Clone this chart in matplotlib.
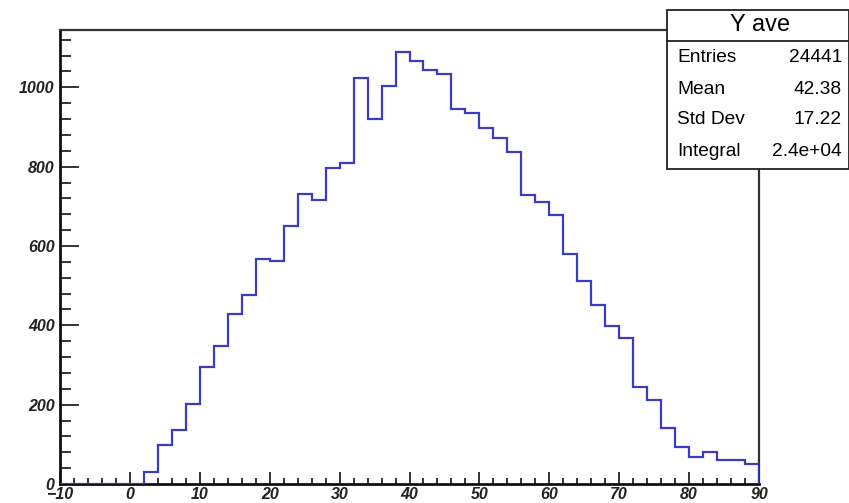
import numpy as np
import matplotlib
matplotlib.use("Agg")
import matplotlib.pyplot as plt
from matplotlib.patches import Rectangle
from matplotlib.lines import Line2D
from matplotlib.ticker import MultipleLocator

# histogram "Y ave": 50 bins of width 2 from -10 to 90
bin_edges = np.arange(-10, 92, 2)
counts = [0, 0, 0, 0, 0, 0,
          31, 99, 135, 201, 295, 348, 429, 476, 567, 561,
          650, 730, 717, 797, 808, 1023, 921, 1004, 1090, 1067,
          1043, 1034, 945, 935, 897, 873, 836, 728, 712, 679,
          580, 513, 451, 399, 367, 245, 211, 141, 93, 69,
          80, 61, 61, 51]

stat_title = "Y ave"
stat_names = ["Entries", "Mean", "Std Dev", "Integral"]
stat_values = ["24441", "42.38", "17.22", "2.4e+04"]

W, H = 849, 503
fig = plt.figure(figsize=(W / 100, H / 100), dpi=100)

def fx(px):
    return px / W

def fy(py):
    return 1 - py / H

# axes frame in pixel coords: x 60..759, y 30..484
ax = fig.add_axes([fx(60), fy(484), fx(759) - fx(60), fy(30) - fy(484)])
ax.stairs(counts, bin_edges, color="#3b3bc4", lw=1.6, zorder=3)

ax.set_xlim(-10, 90)
ax.set_ylim(0, 1.05 * max(counts))

ax.xaxis.set_major_locator(MultipleLocator(10))
ax.xaxis.set_minor_locator(MultipleLocator(2))
ax.yaxis.set_major_locator(MultipleLocator(200))
ax.yaxis.set_minor_locator(MultipleLocator(40))

ax.tick_params(axis="both", which="both", direction="in", top=False, right=False,
               color="#333333", width=1.4)
ax.tick_params(axis="y", which="major", length=14, pad=4)
ax.tick_params(axis="y", which="minor", length=8)
ax.tick_params(axis="x", which="major", length=8.5, pad=2.5)
ax.tick_params(axis="x", which="minor", length=4.3)

for lab in ax.get_xticklabels() + ax.get_yticklabels():
    lab.set_family("Liberation Sans")
    lab.set_fontweight("bold")
    lab.set_style("italic")
    lab.set_fontsize(11.5)
    lab.set_color("#222222")

for side in ["left", "bottom"]:
    ax.spines[side].set_linewidth(2.0)
    ax.spines[side].set_color("#111111")
for side in ["top", "right"]:
    ax.spines[side].set_linewidth(1.6)
    ax.spines[side].set_color("#333333")

# stats box
bx0, bx1, by0, by1, bdiv = 667, 849, 10, 169, 41
fig.patches.append(Rectangle((fx(bx0), fy(by1)), fx(bx1) - fx(bx0), fy(by0) - fy(by1),
                             transform=fig.transFigure, facecolor="white",
                             edgecolor="#222222", lw=1.3, zorder=5))
fig.lines.append(Line2D([fx(bx0), fx(bx1)], [fy(bdiv), fy(bdiv)],
                        transform=fig.transFigure, color="#222222", lw=1.3, zorder=6))

fig.text(fx(760), fy(25), stat_title, ha="center", va="center", fontsize=17,
         family="Liberation Sans", zorder=7)
row_y = [57, 89, 120, 151]
for name, val, yy in zip(stat_names, stat_values, row_y):
    fig.text(fx(677), fy(yy), name, ha="left", va="center", fontsize=13.8,
             family="Liberation Sans", zorder=7)
    fig.text(fx(842), fy(yy), val, ha="right", va="center", fontsize=13.8,
             family="Liberation Sans", zorder=7)

fig.savefig("out.png", dpi=100)
